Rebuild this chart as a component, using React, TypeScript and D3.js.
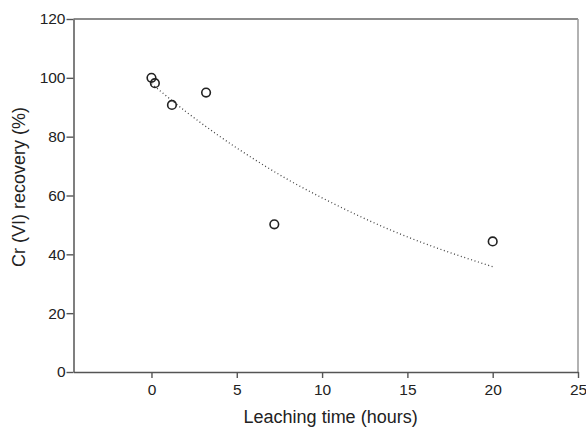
import React, { useEffect, useRef } from "react";
import * as d3 from "d3";

// Measured points
const hours = [0, 0.2, 1.2, 3.2, 7.2, 20];
const recovery = [100, 98.2, 90.8, 95.0, 50.2, 44.4];

// Dotted trend curve
const fitHours = [0, 2, 4, 6, 8, 10, 12, 14, 16, 18, 20];
const fitRecovery = [98, 88.6, 80.1, 72.4, 65.4, 59.2, 53.5, 48.3, 43.7, 39.6, 35.8];

const xTicks = [0, 5, 10, 15, 20, 25];
const yTicks = [0, 20, 40, 60, 80, 100, 120];

const W = 586;
const H = 427;
const margin = { top: 19, right: 8, bottom: 55, left: 73.5 };
const innerW = W - margin.left - margin.right;
const innerH = H - margin.top - margin.bottom;
const FONT = "'Liberation Sans', Arial, Helvetica, sans-serif";

function App() {
    const ref = useRef<SVGSVGElement>(null);

    useEffect(() => {
        const svg = d3.select(ref.current).html("");
        const g = svg.append("g")
            .attr("transform", "translate(" + margin.left + "," + margin.top + ")");

        const x = d3.scaleLinear().domain([-4.57, 25]).range([0, innerW]);
        const y = d3.scaleLinear().domain([0, 120]).range([innerH, 0]);

        // frame: top and right are lighter than the axes
        g.append("line")
            .attr("x1", 0).attr("x2", innerW).attr("y1", 0).attr("y2", 0)
            .attr("stroke", "#666").attr("stroke-width", 1.5);
        g.append("line")
            .attr("x1", innerW).attr("x2", innerW).attr("y1", 0).attr("y2", innerH)
            .attr("stroke", "#999").attr("stroke-width", 1.5);

        const xAxis = g.append("g")
            .attr("transform", "translate(0," + innerH + ")")
            .call(d3.axisBottom(x).tickValues(xTicks).tickSize(6).tickSizeOuter(0).tickPadding(6));
        const yAxis = g.append("g")
            .call(d3.axisLeft(y).tickValues(yTicks).tickSize(7).tickSizeOuter(0).tickPadding(1));

        [xAxis, yAxis].forEach((ax) => {
            ax.select(".domain").attr("stroke", "#555").attr("stroke-width", 1.5);
            ax.selectAll(".tick line").attr("stroke", "#555").attr("stroke-width", 1.4);
            ax.selectAll(".tick text")
                .attr("fill", "#222")
                .style("font-family", FONT)
                .style("font-size", "15.5px");
        });

        // trend line
        const fit = fitHours.map((h, i) => [h, fitRecovery[i]] as [number, number]);
        g.append("path")
            .datum(fit)
            .attr("fill", "none")
            .attr("stroke", "#444")
            .attr("stroke-width", 1.3)
            .attr("stroke-dasharray", "1,2.6")
            .attr("d", d3.line().x((d) => x(d[0])).y((d) => y(d[1])).curve(d3.curveMonotoneX));

        // data points
        g.selectAll(".dot")
            .data(hours.map((h, i) => ({ h, r: recovery[i] })))
            .enter().append("circle")
            .attr("class", "dot")
            .attr("cx", (d) => x(d.h))
            .attr("cy", (d) => y(d.r))
            .attr("r", 4.3)
            .attr("fill", "none")
            .attr("stroke", "#222")
            .attr("stroke-width", 1.6);

        // axis titles
        svg.append("text")
            .attr("x", margin.left + x(10.5))
            .attr("y", 423)
            .attr("text-anchor", "middle")
            .attr("fill", "#222")
            .style("font-family", FONT)
            .style("font-size", "18px")
            .text("Leaching time (hours)");

        svg.append("text")
            .attr("transform", "translate(25,187) rotate(-90)")
            .attr("text-anchor", "middle")
            .attr("fill", "#222")
            .style("font-family", FONT)
            .style("font-size", "18px")
            .text("Cr (VI) recovery (%)");
    }, []);

    return (
        <svg ref={ref} width={W} height={H}
            style={{ position: "absolute", left: 0, top: 0, background: "#fff" }} />
    );
}

export default App;
